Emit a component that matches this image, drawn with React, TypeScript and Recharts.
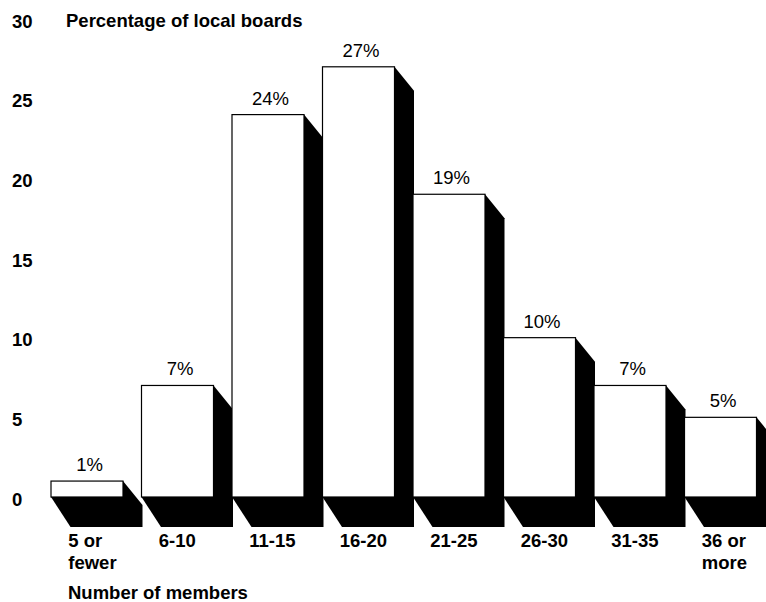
import { Bar, BarChart, LabelList, XAxis, YAxis } from "recharts";

const categories = ["5 or|fewer", "6-10", "11-15", "16-20", "21-25", "26-30", "31-35", "36 or|more"];
const percentages = [1, 7, 24, 27, 19, 10, 7, 5];
const yTicks = [0, 5, 10, 15, 20, 25, 30];

const data = categories.map((c, i) => ({ category: c, pct: percentages[i] }));

const font = "'Liberation Sans', Arial, sans-serif";
const fontSize = 18.5;

function BlockBar(props: any) {
  const { x, y, width, height } = props;
  const dx = 19.5;
  const base = y + height;
  const shadow = [
    `${x},${base}`,
    `${x + dx},${base + 30}`,
    `${x + width + dx},${base + 30}`,
    `${x + width + dx},${y + 24}`,
    `${x + width},${y}`,
  ].join(" ");
  return (
    <g>
      <polygon points={shadow} fill="#000" />
      <rect x={x} y={y} width={width} height={height} fill="#fff" stroke="#000" strokeWidth={1.2} />
    </g>
  );
}

function CategoryTick(props: any) {
  const { x, payload } = props;
  const lines = String(payload.value).split("|");
  const left = x - 19;
  return (
    <text fontFamily={font} fontSize={fontSize} fontWeight={700} fill="#000">
      {lines.map((line, i) => (
        <tspan key={line} x={left} y={547 + i * 21.5}>
          {line}
        </tspan>
      ))}
    </text>
  );
}

function ValueTick(props: any) {
  const { y, payload } = props;
  return (
    <text x={12} y={y + 8.5} fontFamily={font} fontSize={fontSize} fontWeight={700} fill="#000">
      {payload.value}
    </text>
  );
}

export default function App() {
  return (
    <div style={{ position: "absolute", left: 0, top: 0, width: 766, height: 602, background: "#fff" }}>
      <BarChart
        width={766}
        height={602}
        data={data}
        barSize={72}
        margin={{ top: 19, right: 0, left: 0, bottom: 0 }}
      >
        <XAxis
          dataKey="category"
          axisLine={false}
          tickLine={false}
          interval={0}
          height={105}
          tick={<CategoryTick />}
        />
        <YAxis
          domain={[0, 30]}
          ticks={yTicks}
          width={42}
          axisLine={false}
          tickLine={false}
          tick={<ValueTick />}
        />
        <Bar dataKey="pct" shape={<BlockBar />} isAnimationActive={false}>
          <LabelList
            dataKey="pct"
            position="top"
            offset={10}
            dx={2.5}
            formatter={(v: any) => `${v}%`}
            style={{ fontFamily: font, fontSize, fill: "#000" }}
          />
        </Bar>
        <text x={66} y={27} fontFamily={font} fontSize={fontSize} fontWeight={700} fill="#000">
          Percentage of local boards
        </text>
        <text x={68} y={599} fontFamily={font} fontSize={fontSize} fontWeight={700} fill="#000">
          Number of members
        </text>
      </BarChart>
    </div>
  );
}
